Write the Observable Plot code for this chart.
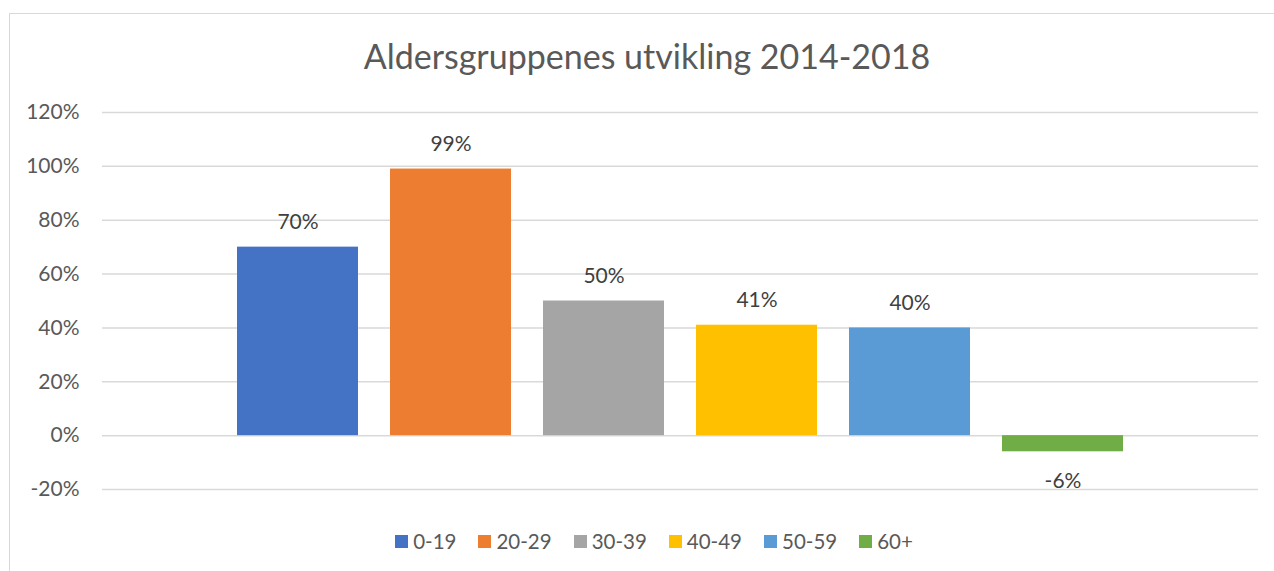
<!DOCTYPE html>
<html>
<head>
<meta charset="utf-8">
<script src="https://cdn.jsdelivr.net/npm/d3@7"></script>
<script src="https://cdn.jsdelivr.net/npm/@observablehq/plot@0.6"></script>
<style>
  html, body { margin: 0; padding: 0; background: #fff; overflow: hidden; }
  body { width: 1274px; height: 571px; position: relative; font-family: Lato, "Open Sans", sans-serif; }
  #frame { position: absolute; left: 9px; top: 13px; width: 1300px; height: 600px; border: 1.5px solid #d9d9d9; box-sizing: border-box; }
  #title { position: absolute; left: 0; top: 36px; width: 1294px; text-align: center; font-size: 34px; line-height: 40px; color: #595959; }
  #chart { position: absolute; left: 0; top: 80px; }
  #legend { position: absolute; left: 0; top: 528px; width: 1308px; display: flex; justify-content: center; gap: 22px; font-size: 20.5px; line-height: 26px; color: #595959; }
  .item { display: flex; align-items: center; gap: 5px; }
  .sw { width: 13px; height: 13px; display: inline-block; }
</style>
</head>
<body>
<div id="frame"></div>
<div id="title">Aldersgruppenes utvikling 2014-2018</div>
<div id="chart"></div>
<div id="legend"></div>
<script>
const title = "Aldersgruppenes utvikling 2014-2018";
const groups = ["0-19", "20-29", "30-39", "40-49", "50-59", "60+"];
const values = [0.70, 0.99, 0.50, 0.41, 0.40, -0.06];
const colors = ["#4472C4", "#ED7D31", "#A5A5A5", "#FFC000", "#5B9BD5", "#70AD47"];
const yTicks = [-0.2, 0, 0.2, 0.4, 0.6, 0.8, 1.0, 1.2];

const data = groups.map((g, i) => ({group: g, value: values[i]}));
const pct = d3.format(".0%");

const chart = Plot.plot({
  width: 1274,
  height: 440,
  marginTop: 32,
  marginBottom: 31,
  marginLeft: 102,
  marginRight: 16,
  style: {fontFamily: "Lato, 'Open Sans', sans-serif", fontSize: "21px", color: "#595959", background: "transparent"},
  x: {domain: groups, range: [235, 1125], paddingInner: 0.21, paddingOuter: 0, axis: null},
  y: {domain: [-0.2, 1.2], ticks: yTicks, tickFormat: pct, tickSize: 0, tickPadding: 23, label: null},
  color: {domain: groups, range: colors},
  marks: [
    Plot.ruleY(yTicks, {stroke: "#d9d9d9", strokeWidth: 1.5}),
    Plot.barY(data, {x: "group", y: "value", fill: "group"}),
    Plot.text(data.filter(d => d.value >= 0), {x: "group", y: "value", text: d => pct(d.value), dy: -25, fill: "#404040", fontSize: 21}),
    Plot.text(data.filter(d => d.value < 0), {x: "group", y: "value", text: d => pct(d.value).replace("−", "-"), dy: 29, fill: "#404040", fontSize: 21})
  ]
});
// tick labels use hyphen-minus like the source
chart.querySelectorAll("text").forEach(t => { t.textContent = t.textContent.replace("−", "-"); });
document.getElementById("chart").appendChild(chart);

const legend = document.getElementById("legend");
groups.forEach((g, i) => {
  const item = document.createElement("div");
  item.className = "item";
  const sw = document.createElement("span");
  sw.className = "sw";
  sw.style.background = colors[i];
  const lab = document.createElement("span");
  lab.textContent = g;
  item.appendChild(sw);
  item.appendChild(lab);
  legend.appendChild(item);
});
</script>
</body>
</html>
